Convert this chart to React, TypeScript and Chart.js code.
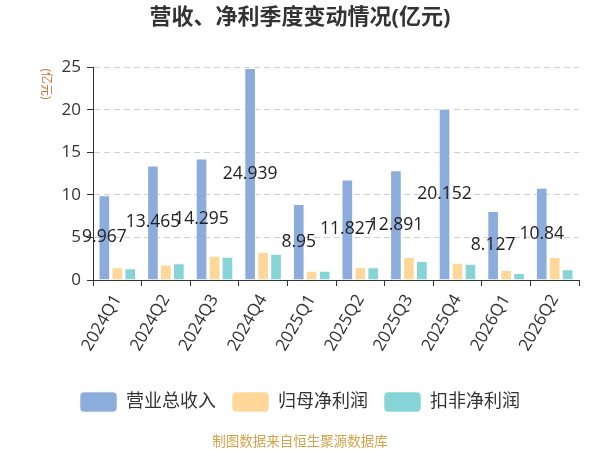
import React, { useEffect, useRef } from "react";
import { Chart, registerables } from "chart.js";

Chart.register(...registerables);

const categories = ["2024Q1", "2024Q2", "2024Q3", "2024Q4", "2025Q1", "2025Q2", "2025Q3", "2025Q4", "2026Q1", "2026Q2"];
const revenue = [9.967, 13.465, 14.295, 24.939, 8.95, 11.827, 12.891, 20.152, 8.127, 10.84];
const netProfit = [1.5, 1.82, 2.85, 3.28, 1.1, 1.54, 2.69, 2.02, 1.19, 2.69];
const deductedProfit = [1.39, 1.98, 2.73, 3.08, 1.1, 1.5, 2.22, 1.9, 0.83, 1.27];
const seriesNames = ["营业总收入", "归母净利润", "扣非净利润"];
const yTicks = [0, 5, 10, 15, 20, 25];
const titleText = "营收、净利季度变动情况(亿元)";
const unitText = "(亿元)";
const footerText = "制图数据来自恒生聚源数据库";

const FONT = '"Open Sans", "Noto Sans CJK SC", sans-serif';

const valueLabelPlugin = {
  id: "valueLabels",
  afterDatasetsDraw(chart: any) {
    const ctx = chart.ctx;
    const meta = chart.getDatasetMeta(0);
    ctx.save();
    ctx.font = `17.5px ${FONT}`;
    ctx.fillStyle = "#222";
    ctx.textAlign = "center";
    ctx.textBaseline = "middle";
    meta.data.forEach((bar: any, i: number) => {
      const v = revenue[i];
      ctx.fillText(String(v), bar.x, (bar.y + bar.base) / 2);
    });
    ctx.restore();
  },
};

const extraTextPlugin = {
  id: "extraText",
  afterDraw(chart: any) {
    const ctx = chart.ctx;
    const area = chart.chartArea;
    ctx.save();
    ctx.translate(45, area.top + 1);
    ctx.rotate(Math.PI / 2);
    ctx.font = `12px ${FONT}`;
    ctx.fillStyle = "#c8773f";
    ctx.textAlign = "left";
    ctx.textBaseline = "middle";
    ctx.fillText(unitText, 0, 0);
    ctx.restore();

    ctx.save();
    ctx.font = `13.5px ${FONT}`;
    ctx.fillStyle = "#d4a24a";
    ctx.textAlign = "center";
    ctx.textBaseline = "middle";
    ctx.fillText(footerText, chart.width / 2, chart.height - 8);
    ctx.restore();
  },
};

export default function App() {
  const ref = useRef<HTMLCanvasElement | null>(null);

  useEffect(() => {
    document.body.style.margin = "0";
    if (!ref.current) return;
    Chart.defaults.font.family = FONT;
    const barBorder = "rgba(255,255,255,0.55)";
    const chart = new Chart(ref.current, {
      type: "bar",
      data: {
        labels: categories,
        datasets: [
          { label: seriesNames[0], data: revenue, backgroundColor: "#8caddb", borderColor: barBorder, borderWidth: 1 },
          { label: seriesNames[1], data: netProfit, backgroundColor: "#ffd899", borderColor: barBorder, borderWidth: 1 },
          { label: seriesNames[2], data: deductedProfit, backgroundColor: "#86d4d7", borderColor: barBorder, borderWidth: 1 },
        ],
      },
      options: {
        responsive: false,
        animation: false,
        maintainAspectRatio: false,
        layout: { padding: { left: 21, right: 21, top: 0, bottom: 28 } },
        datasets: { bar: { categoryPercentage: 0.8, barPercentage: 0.9 } },
        plugins: {
          title: {
            display: true,
            text: titleText,
            color: "#333",
            font: { size: 22, weight: "bold", family: FONT },
            padding: { top: 5, bottom: 36 },
          },
          legend: {
            display: true,
            position: "bottom",
            labels: {
              color: "#333",
              font: { size: 18, family: FONT },
              boxWidth: 37,
              boxHeight: 20,
              padding: 16,
              useBorderRadius: true,
              borderRadius: 4,
            },
          },
          tooltip: { enabled: false },
        },
        scales: {
          x: {
            grid: { display: true, drawOnChartArea: false, drawTicks: true, tickLength: 6, tickColor: "#333", offset: true },
            border: { display: true, color: "#333", width: 1 },
            ticks: { color: "#333", font: { size: 17, family: FONT }, minRotation: 60, maxRotation: 60, padding: 5, autoSkip: false },
            afterFit: (s: any) => { s.height = 96; },
          },
          y: {
            min: 0,
            max: 25,
            afterBuildTicks: (s: any) => { s.ticks = yTicks.map((v) => ({ value: v })); },
            grid: { color: "#d0d0d0", tickColor: "#333", tickLength: 6, lineWidth: 1 },
            border: { display: true, color: "#333", width: 1, dash: [6, 4] },
            ticks: { color: "#333", font: { size: 17, family: FONT }, padding: 6 },
            afterFit: (s: any) => { s.width = 72; },
          },
        },
      },
      plugins: [valueLabelPlugin, extraTextPlugin],
    });
    return () => chart.destroy();
  }, []);

  return (
    <div style={{ position: "relative", width: 600, height: 450 }}>
      <canvas ref={ref} width={600} height={450} style={{ width: 600, height: 450 }} />
    </div>
  );
}
